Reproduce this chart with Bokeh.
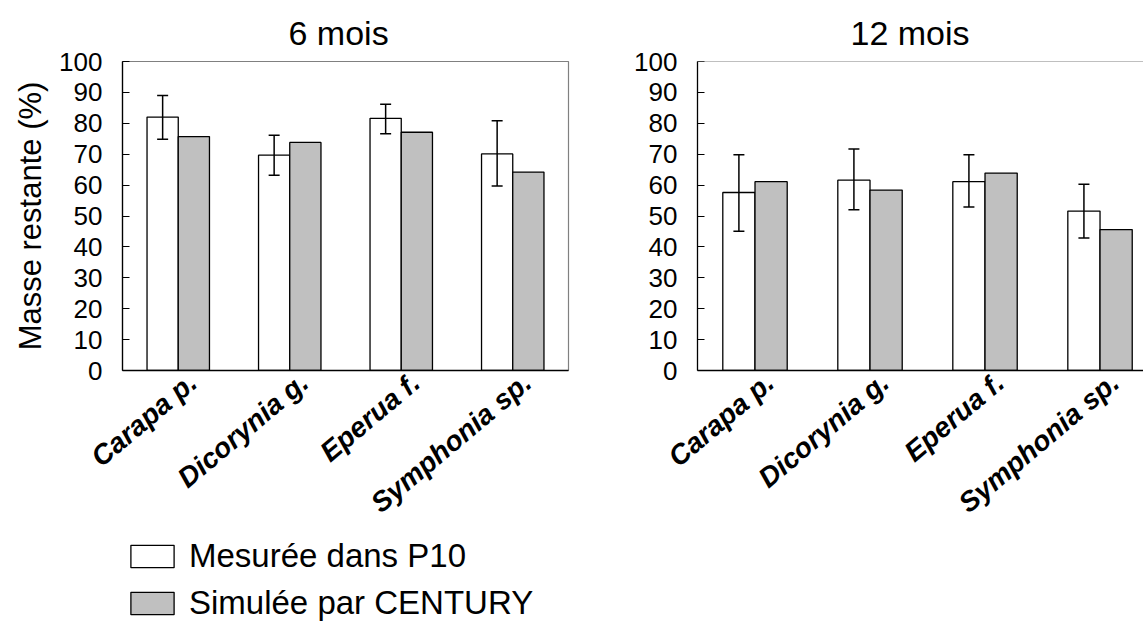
import numpy as np
from bokeh.plotting import figure
from bokeh.layouts import row, column
from bokeh.models import (ColumnDataSource, Whisker, TeeHead, FixedTicker,
                          Legend, LegendItem, Span, Range1d)
from bokeh.embed import file_html
from bokeh.resources import INLINE

categories = ["Carapa p.", "Dicorynia g.", "Eperua f.", "Symphonia sp."]

mesure_6 = [82.0, 69.7, 81.6, 70.1]
mesure_6_upper = [89.0, 76.1, 86.2, 80.8]
mesure_6_lower = [74.8, 63.2, 76.6, 59.7]
simule_6 = [75.7, 73.8, 77.1, 64.2]

mesure_12 = [57.6, 61.6, 61.1, 51.6]
mesure_12_upper = [69.8, 71.7, 69.8, 60.3]
mesure_12_lower = [45.1, 52.0, 52.9, 42.9]
simule_12 = [61.1, 58.4, 63.9, 45.6]

titles = ["6 mois", "12 mois"]
legend_labels = ["Mesurée dans P10", "Simulée par CENTURY"]
y_ticks = list(range(0, 101, 10))

FONT = "Liberation Sans"
BAR_W = 0.28
LABEL_SHIFT = 0.13
WHITE = "white"
GREY = "#c0c0c0"


def make_panel(title, mesure, upper, lower, simule, width, border_left,
               border_right, x_end, show_ylabel, full_outline, title_offset):
    idx = np.arange(len(categories))
    p = figure(width=width, height=533, output_backend="svg",
               toolbar_location=None, x_range=Range1d(-0.5, x_end),
               y_range=Range1d(0, 100), min_border_left=border_left,
               min_border_right=border_right, min_border_top=61,
               min_border_bottom=162)
    p.title.text = title
    p.title.align = "left"
    p.title.offset = title_offset
    p.title.text_font = FONT
    p.title.text_font_size = "34px"
    p.title.text_font_style = "normal"
    p.title.text_color = "black"
    p.title.standoff = 20

    src = ColumnDataSource(dict(
        x=idx, mesure=mesure, upper=upper, lower=lower, simule=simule,
        xm=idx - BAR_W / 2, xs=idx + BAR_W / 2))
    p.vbar(x="xm", top="mesure", width=BAR_W, source=src,
           fill_color=WHITE, line_color="black", line_width=1.3)
    p.vbar(x="xs", top="simule", width=BAR_W, source=src,
           fill_color=GREY, line_color="black", line_width=1.3)
    w = Whisker(base="xm", upper="upper", lower="lower", source=src,
                level="overlay", line_color="black", line_width=1.5,
                upper_head=TeeHead(size=11, line_width=1.5, line_color="black"),
                lower_head=TeeHead(size=11, line_width=1.5, line_color="black"))
    p.add_layout(w)

    p.grid.visible = False
    if full_outline:
        p.outline_line_color = "#808080"
        p.outline_line_width = 1.2
    else:
        p.outline_line_color = None
        p.add_layout(Span(location=100, dimension="width",
                          line_color="#808080", line_width=1.2))

    p.yaxis.ticker = FixedTicker(ticks=y_ticks)
    p.yaxis.major_tick_in = 7
    p.yaxis.major_tick_out = 0
    p.yaxis.minor_tick_line_color = None
    p.yaxis.axis_line_color = "black"
    p.yaxis.axis_line_width = 1.3
    p.yaxis.major_label_text_font = FONT
    p.yaxis.major_label_text_font_size = "26px"
    p.yaxis.major_label_text_color = "black"
    p.yaxis.major_label_standoff = 20
    if show_ylabel:
        p.yaxis.axis_label = "Masse restante (%)"
        p.yaxis.axis_label_text_font = FONT
        p.yaxis.axis_label_text_font_size = "31px"
        p.yaxis.axis_label_text_font_style = "normal"
        p.yaxis.axis_label_text_color = "black"
        p.yaxis.axis_label_standoff = 8

    ticks = [float(i + LABEL_SHIFT) for i in idx]
    p.xaxis.ticker = FixedTicker(ticks=ticks)
    p.xaxis.major_label_overrides = {t: c for t, c in zip(ticks, categories)}
    p.xaxis.major_tick_line_color = None
    p.xaxis.minor_tick_line_color = None
    p.xaxis.axis_line_color = "black"
    p.xaxis.axis_line_width = 1.3
    p.xaxis.major_label_orientation = 0.70
    p.xaxis.major_label_text_font = FONT
    p.xaxis.major_label_text_font_size = "28px"
    p.xaxis.major_label_text_font_style = "bold italic"
    p.xaxis.major_label_text_color = "black"
    p.xaxis.major_label_standoff = 2
    return p


p1 = make_panel(titles[0], mesure_6, mesure_6_upper, mesure_6_lower,
                simule_6, 600, 122, 32, 3.5, True, True, 166)
p2 = make_panel(titles[1], mesure_12, mesure_12_upper, mesure_12_lower,
                simule_12, 543, 97, 0, 3.378, False, False, 153)

# legend panel below the left chart (its frame is aligned with p1's frame)
pleg = figure(width=600, height=90, output_backend="svg",
              toolbar_location=None, x_range=Range1d(0, 1),
              y_range=Range1d(0, 1), x_axis_type=None, y_axis_type=None,
              min_border=0)
pleg.outline_line_color = None
pleg.grid.visible = False
# proxy glyphs for the legend; the renderers themselves are not shown
proxy = ColumnDataSource(dict(x=[0.5], top=[0.5]))
lr1 = pleg.vbar(x="x", top="top", width=0.1, source=proxy,
                fill_color=WHITE, line_color="black", line_width=1.3,
                visible=False)
lr2 = pleg.vbar(x="x", top="top", width=0.1, source=proxy,
                fill_color=GREY, line_color="black", line_width=1.3,
                visible=False)
legend = Legend(items=[LegendItem(label=legend_labels[0], renderers=[lr1]),
                       LegendItem(label=legend_labels[1], renderers=[lr2])],
                location=(3, 1), orientation="vertical",
                border_line_color=None, background_fill_alpha=0,
                inactive_fill_alpha=0,
                padding=0, margin=0, spacing=9,
                glyph_width=54, glyph_height=28, label_standoff=10,
                label_text_font=FONT, label_text_font_size="33px",
                label_text_color="black", label_height=28)
pleg.add_layout(legend)

layout = row(column(p1, pleg, spacing=0), p2, spacing=0)
open("out.html", "w").write(file_html(layout, INLINE))
